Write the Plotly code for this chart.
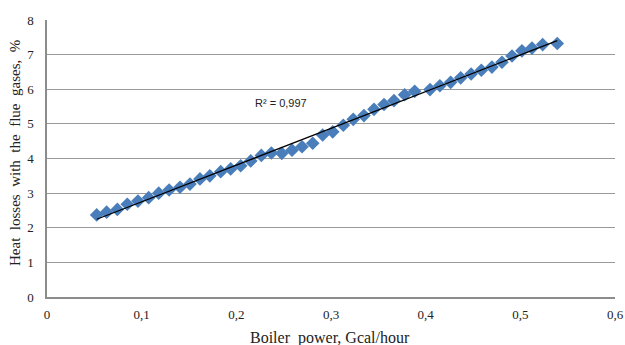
import numpy as np
import plotly.graph_objects as go

# Boiler output, Gcal/hour
power = [0.0525, 0.063, 0.0743, 0.0848, 0.0961, 0.1074, 0.118, 0.129, 0.1405, 0.151,
         0.1616, 0.172, 0.1835, 0.194, 0.2046, 0.2152, 0.2264, 0.237, 0.248, 0.2588,
         0.2694, 0.2807, 0.2912, 0.3018, 0.313, 0.3235, 0.3348, 0.3454, 0.356, 0.3665,
         0.3778, 0.3884, 0.4046, 0.415, 0.4264, 0.437, 0.448, 0.4588, 0.47, 0.4806,
         0.4912, 0.5017, 0.5123, 0.5236, 0.539]
# Heat losses with the flue gases, %
losses = [2.37, 2.45, 2.53, 2.68, 2.77, 2.87, 3.00, 3.09, 3.17, 3.26,
          3.41, 3.50, 3.62, 3.70, 3.79, 3.93, 4.09, 4.16, 4.15, 4.24,
          4.34, 4.44, 4.68, 4.77, 4.96, 5.13, 5.24, 5.42, 5.56, 5.67,
          5.84, 5.94, 5.99, 6.10, 6.20, 6.33, 6.44, 6.55, 6.64, 6.78,
          6.96, 7.11, 7.19, 7.29, 7.32]

x_ticks = [0, 0.1, 0.2, 0.3, 0.4, 0.5, 0.6]
x_tick_text = ["0", "0,1", "0,2", "0,3", "0,4", "0,5", "0,6"]
y_ticks = [0, 1, 2, 3, 4, 5, 6, 7, 8]
r2_label = "R² = 0,997"
x_title = "Boiler  power, Gcal/hour"
y_title = "Heat  losses  with  the  flue  gases,  %"

# Linear trend line over the data range
slope, intercept = np.polyfit(power, losses, 1)
trend_x = [min(power), max(power)]
trend_y = [slope * v + intercept for v in trend_x]

fig = go.Figure()
fig.add_trace(go.Scatter(
    x=power, y=losses, mode="markers",
    marker=dict(symbol="diamond", size=10.5, color="#4a7ebb",
                line=dict(width=0)),
    showlegend=False,
))
fig.add_trace(go.Scatter(
    x=trend_x, y=trend_y, mode="lines",
    line=dict(color="black", width=1.2),
    showlegend=False,
))

serif = "Liberation Serif, Times New Roman, serif"

fig.add_annotation(
    x=0.247, y=5.60, text=r2_label, showarrow=False,
    font=dict(family="Liberation Sans, Arial", size=11, color="#222"),
)
# Axis titles placed as paper-anchored text
fig.add_annotation(
    xref="paper", yref="paper", x=0.498, y=-0.148, text=x_title,
    showarrow=False, xanchor="center", yanchor="middle",
    font=dict(family=serif, size=16, color="#222"),
)
fig.add_annotation(
    xref="paper", yref="paper", x=-0.0563, y=0.52, text=y_title,
    showarrow=False, textangle=-90, xanchor="center", yanchor="middle",
    font=dict(family=serif, size=15, color="#222"),
)

fig.update_layout(
    width=625, height=345,
    margin=dict(l=47, r=10, t=20, b=48),
    paper_bgcolor="white", plot_bgcolor="white",
    font=dict(family=serif, size=13, color="#222"),
    xaxis=dict(
        range=[0, 0.6], tickvals=x_ticks, ticktext=x_tick_text,
        showgrid=False, zeroline=False, automargin=False,
        showline=True, linecolor="#8c8c8c", linewidth=1.5,
        ticks="", ticklen=0, ticklabelstandoff=5,
    ),
    yaxis=dict(
        range=[0, 8], tickvals=y_ticks,
        showgrid=True, gridcolor="#9a9a9a", gridwidth=1.3,
        zeroline=False, automargin=False,
        showline=True, linecolor="#8c8c8c", linewidth=1.5,
        ticks="", ticklen=0, ticklabelstandoff=9,
    ),
)

fig.write_html("out.html")
